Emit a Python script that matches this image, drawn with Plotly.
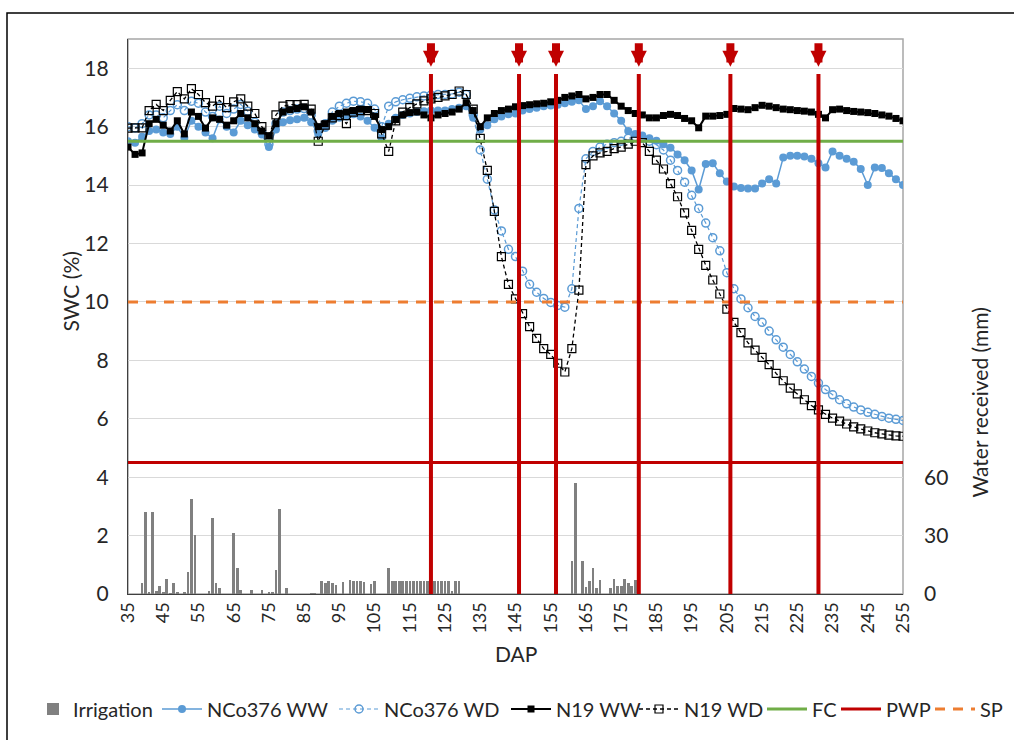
import plotly.graph_objects as go

# ---------------- data ----------------
DAP = list(range(35, 256, 2))  # measurement days (every 2nd day)

nco376_ww = [
    15.5, 15.45, 15.65, 15.85, 15.9, 15.8, 15.75, 16.0, 15.62, 16.2,
    16.0, 15.8, 15.6, 16.24, 16.0, 15.8, 16.2, 16.05, 15.9, 15.73,
    15.3, 15.9, 16.15, 16.22, 16.25, 16.3, 16.15, 15.75, 15.95, 16.2,
    16.3, 16.35, 16.42, 16.35, 16.2, 15.96, 15.6, 16.1, 16.3, 16.4,
    16.45, 16.5, 16.53, 16.55, 16.55, 16.55, 16.6, 16.65, 16.7, 16.3,
    15.9, 16.05, 16.25, 16.35, 16.42, 16.45, 16.55, 16.6, 16.65, 16.7,
    16.72, 16.75, 16.8, 16.85, 16.9, 16.6, 16.7, 16.87, 16.7, 16.45,
    16.2, 15.85, 15.75, 15.7, 15.6, 15.52, 15.4, 15.28, 15.05, 14.85,
    14.5, 13.85, 14.72, 14.75, 14.4, 14.12, 13.95, 13.9, 13.88, 13.88,
    14.05, 14.2, 14.05, 14.94, 15.0, 15.0, 14.98, 14.9, 14.75, 14.6,
    15.15, 15.0, 14.9, 14.8, 14.55, 14.0, 14.6, 14.58, 14.4, 14.2,
    14.0,
]

nco376_wd = [
    16.0, 15.95, 16.1, 16.4, 16.4, 16.3, 16.55, 16.75, 16.55, 16.87,
    16.8, 16.5, 16.35, 16.7, 16.45, 16.6, 16.76, 16.53, 16.15, 15.8,
    15.4, 16.1, 16.5, 16.55, 16.6, 16.62, 16.4, 15.85, 16.1, 16.5,
    16.7, 16.8, 16.87, 16.85, 16.8, 16.6, 16.0, 16.7, 16.85, 16.92,
    16.97, 17.02, 17.05, 17.08, 17.1, 17.1, 17.12, 17.18, 17.1, 16.4,
    15.2, 14.2, 13.15, 12.43, 11.8, 11.55, 11.05, 10.6, 10.33, 10.12,
    9.98, 9.88, 9.82, 10.45, 13.2, 14.9, 15.15, 15.3, 15.4, 15.45,
    15.5, 15.6, 15.65, 15.6, 15.5, 15.38, 15.2, 14.85, 14.5, 14.1,
    13.65, 13.2, 12.7, 12.2, 11.75, 11.0, 10.45, 10.1, 9.8, 9.5,
    9.3, 9.0, 8.7, 8.45, 8.2, 7.95, 7.7, 7.45, 7.22, 7.0,
    6.82, 6.65, 6.51, 6.4, 6.3, 6.22, 6.15, 6.08, 6.02, 5.98,
    5.94,
]

n19_ww = [
    15.3, 15.05, 15.1, 16.1, 16.25, 16.05, 15.85, 16.2, 15.75, 16.5,
    16.35, 15.95, 16.3, 16.25, 16.05, 16.2, 16.45, 16.3, 16.1, 15.85,
    15.68, 16.1, 16.5, 16.58, 16.62, 16.68, 16.5, 16.0, 16.1, 16.35,
    16.45, 16.5, 16.55, 16.6, 16.58, 16.35, 15.9, 16.0, 16.24, 16.4,
    16.48, 16.5, 16.4, 16.3, 16.4, 16.45, 16.5, 16.6, 16.82, 16.55,
    16.0, 16.3, 16.45, 16.55, 16.6, 16.68, 16.72, 16.75, 16.78, 16.8,
    16.85, 16.9, 17.0, 17.05, 17.1, 16.95, 17.0, 17.1, 17.1, 16.9,
    16.7, 16.55, 16.45, 16.4, 16.3, 16.3, 16.38, 16.42, 16.38, 16.28,
    16.2, 15.96, 16.36, 16.36, 16.38, 16.42, 16.62, 16.6, 16.58, 16.65,
    16.73, 16.7, 16.65, 16.6, 16.58, 16.55, 16.53, 16.5, 16.42, 16.3,
    16.58, 16.6, 16.55, 16.52, 16.5, 16.48, 16.45, 16.4, 16.36, 16.28,
    16.2,
]

n19_wd = [
    15.95, 15.96, 15.96, 16.55, 16.76, 16.55, 16.9, 17.2, 16.95, 17.3,
    17.1, 16.82, 16.7, 16.9, 16.65, 16.85, 16.95, 16.7, 16.45, 16.0,
    15.65, 16.4, 16.7, 16.75, 16.75, 16.76, 16.6, 15.5, 16.05, 16.3,
    16.38, 16.1, 16.5, 16.55, 16.55, 16.45, 15.75, 15.15, 16.2, 16.5,
    16.65, 16.78, 16.88, 16.95, 17.0, 17.05, 17.1, 17.22, 17.1, 16.6,
    15.6, 14.5, 13.1, 11.55, 10.6, 10.1, 9.6, 9.15, 8.75, 8.4,
    8.2, 7.9, 7.6, 8.4, 10.4, 14.7, 15.0, 15.1, 15.15, 15.25,
    15.3, 15.4, 15.5, 15.45, 15.15, 14.85, 14.55, 14.05, 13.6, 13.05,
    12.45, 11.8, 11.25, 10.75, 10.27, 9.75, 9.3, 8.95, 8.6, 8.35,
    8.1, 7.85, 7.55, 7.3, 7.05, 6.85, 6.65, 6.45, 6.3, 6.15,
    6.02, 5.92, 5.82, 5.72, 5.65, 5.58, 5.52, 5.48, 5.44, 5.41,
    5.4,
]

irr_dap = [39, 40, 41, 42, 43, 44, 45, 46, 47, 48, 49, 51, 52, 53, 54,
           58, 59, 60, 61, 65, 66, 67, 70, 73, 75, 76, 77, 78, 80,
           87, 88, 90, 91, 92, 93, 94, 96, 98, 99, 100, 101, 102, 104, 105,
           109, 110, 111, 112, 113, 114, 115, 116, 117, 118, 119, 120, 121,
           122, 123, 124, 125, 126, 127, 128, 129,
           161, 162, 164, 165, 166, 167, 168, 169, 172, 173, 174, 175, 176,
           177, 178, 179]
irr_mm = [5.9, 42, 1, 42, 1.5, 4.1, 1, 7.9, 0.5, 5.9, 1, 1, 11.5, 48.6, 30.5,
          1.5, 38.8, 5.9, 3.3, 31.4, 13.3, 2, 2, 2, 1, 1, 12.4, 43.5, 3.3,
          0.5, 0.5, 6.9, 5.9, 6.9, 5.9, 4.8, 6.4, 7.2, 6.9, 6.7, 6.9, 6.0, 5.0, 6.9,
          13.3, 6.9, 6.9, 6.9, 6.9, 6.9, 6.9, 6.9, 6.9, 6.9, 6.9, 6.9, 6.9,
          6.9, 6.9, 6.9, 6.9, 6.9, 1.7, 6.9, 6.9,
          17.2, 57.2, 17.2, 3.8, 6.9, 13.3, 3.3, 7.2, 3.3, 7.8, 4.1, 4.1, 7.8,
          5.9, 4.1, 7.2]

FC = 15.5
PWP = 4.5
SP = 10.0
event_dap = [121, 146, 156.5, 180, 206, 231]

x_ticks = list(range(35, 256, 10))
y_ticks = list(range(0, 19, 2))
y2_ticks = [0, 30, 60]

# ---------------- layout helpers ----------------
W, H = 1014, 740
ML, MR, MT, MB = 128, 111, 39, 146
PW, PH = W - ML - MR, H - MT - MB


def px2x(px):
    return (px - ML) / PW


def py2y(py):
    return (H - MB - py) / PH


FONT = "Lato"
TXT = "#262626"
BLUE = "#5B9BD5"
RED = "#C00000"

# one legend box per entry so the single legend row can span the full width
legend_left_px = [33, 157, 334, 506, 634, 762, 836, 930]
legend_ids = ["legend"] + ["legend%d" % i for i in range(2, 9)]

fig = go.Figure()

fig.add_trace(go.Bar(x=irr_dap, y=irr_mm, yaxis="y2", name="Irrigation", legend=legend_ids[0],
                     showlegend=True,
                     marker=dict(color="#808080", line=dict(width=0)), width=0.75))

fig.add_trace(go.Scatter(x=DAP, y=nco376_ww, name="NCo376 WW", mode="lines+markers",
                         legend=legend_ids[1],
                         line=dict(color=BLUE, width=1.5),
                         marker=dict(symbol="circle", size=8, color=BLUE)))
fig.add_trace(go.Scatter(x=DAP, y=nco376_wd, name="NCo376 WD", mode="lines+markers",
                         legend=legend_ids[2],
                         line=dict(color=BLUE, width=1.2, dash="4px,3px"),
                         marker=dict(symbol="circle-open", size=8, color=BLUE,
                                     line=dict(width=1.5, color=BLUE))))
fig.add_trace(go.Scatter(x=DAP, y=n19_ww, name="N19 WW", mode="lines+markers",
                         legend=legend_ids[3],
                         line=dict(color="black", width=2),
                         marker=dict(symbol="square", size=7, color="black")))
fig.add_trace(go.Scatter(x=DAP, y=n19_wd, name="N19 WD", mode="lines+markers",
                         legend=legend_ids[4],
                         line=dict(color="black", width=1.3, dash="4px,3px"),
                         marker=dict(symbol="square-open", size=8, color="black",
                                     line=dict(width=1.2, color="black"))))

xr = [DAP[0], DAP[-1]]
fig.add_trace(go.Scatter(x=xr, y=[FC, FC], name="FC", mode="lines", legend=legend_ids[5],
                         line=dict(color="#70AD47", width=3)))
fig.add_trace(go.Scatter(x=xr, y=[PWP, PWP], name="PWP", mode="lines", legend=legend_ids[6],
                         line=dict(color=RED, width=3)))
fig.add_trace(go.Scatter(x=xr, y=[SP, SP], name="SP", mode="lines", legend=legend_ids[7],
                         line=dict(color="#ED7D31", width=3, dash="10px,8px")))

shapes = []
for d in event_dap:
    shapes.append(dict(type="line", xref="x", yref="y", x0=d, x1=d, y0=0, y1=17.8,
                       line=dict(color=RED, width=4), layer="above"))
# plot frame
shapes.append(dict(type="rect", xref="paper", yref="paper", x0=0, x1=1, y0=0, y1=1,
                   line=dict(color="#a6a6a6", width=1.5), layer="below"))
# outer chart border
shapes.append(dict(type="rect", xref="paper", yref="paper",
                   x0=px2x(7), x1=px2x(1030), y0=py2y(760), y1=py2y(13),
                   line=dict(color="black", width=1.5), layer="below"))

annotations = []
for d in event_dap:
    annotations.append(dict(x=d, y=18.05, xref="x", yref="y", ax=0, ay=-25,
                            showarrow=True, arrowhead=2, arrowsize=0.4, arrowwidth=8,
                            arrowcolor=RED, text=""))
annotations.append(dict(text="SWC (%)", x=px2x(55), y=py2y(292), xref="paper", yref="paper",
                        textangle=-90, showarrow=False, font=dict(size=21, color=TXT)))
annotations.append(dict(text="DAP", x=px2x(516), y=py2y(668), xref="paper", yref="paper",
                        showarrow=False, font=dict(size=21, color=TXT)))
annotations.append(dict(text="Water received (mm)", x=px2x(993), y=py2y(500), xref="paper",
                        yref="paper", textangle=-90, showarrow=False,
                        font=dict(size=21, color=TXT)))

legend_layout = {}
for i, (lid, lx) in enumerate(zip(legend_ids, legend_left_px)):
    legend_layout[lid] = dict(
        orientation="h", x=px2x(lx), y=py2y(709), xanchor="left", yanchor="middle",
        font=dict(size=20, color=TXT, family=FONT), bgcolor="rgba(0,0,0,0)",
        borderwidth=0, itemwidth=30 if i == 0 else 40, visible=True)

fig.update_layout(
    width=W, height=H,
    margin=dict(l=ML, r=MR, t=MT, b=MB, autoexpand=False),
    paper_bgcolor="white", plot_bgcolor="white",
    font=dict(family=FONT, color=TXT),
    showlegend=True,
    bargap=0,
    xaxis=dict(range=[35, 255], tickvals=x_ticks, tickangle=-90, showgrid=False,
               zeroline=False, showline=True, linecolor="#404040", linewidth=1.2,
               ticks="", tickfont=dict(size=18, color=TXT)),
    yaxis=dict(range=[0, 19], tickvals=y_ticks, showgrid=True, gridcolor="#d9d9d9",
               zeroline=False, showline=True, linecolor="#404040", linewidth=1.2,
               ticks="", tickfont=dict(size=21, color=TXT), ticklabelstandoff=14),
    yaxis2=dict(range=[0, 285], tickvals=y2_ticks, overlaying="y", side="right",
                showgrid=False, zeroline=False, showline=False, ticks="",
                tickfont=dict(size=21, color=TXT), ticklabelstandoff=20),
    shapes=shapes,
    annotations=annotations,
    **legend_layout,
)

fig.write_html("out.html")
